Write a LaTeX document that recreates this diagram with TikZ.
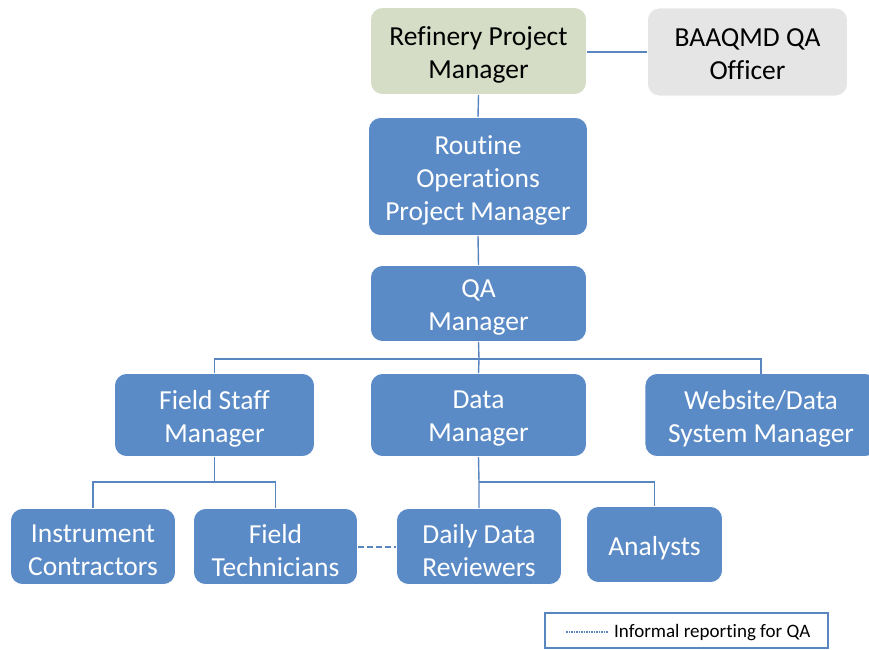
\documentclass[tikz,border=0pt]{standalone}
\usepackage{fontspec}
\setmainfont[Ligatures={NoCommon}]{Carlito}
\definecolor{boxblue}{HTML}{5B8BC6}
\definecolor{linecol}{HTML}{5A86C0}
\definecolor{refgreen}{HTML}{D5DDC6}
\definecolor{offgray}{HTML}{E5E5E5}
\begin{document}
\begin{tikzpicture}[x=1pt,y=-1pt,
  box/.style={rectangle, rounded corners=12pt, fill=boxblue, draw=white, line width=0.8pt, inner sep=0pt},
  boxtxt/.style={text=white, align=center, font=\fontsize{27.5}{33}\selectfont, inner sep=0pt},
  conn/.style={draw=linecol, line width=1.4pt}]
\useasboundingbox (0,0) rectangle (869,649);
\begin{scope}
\clip (0,0) rectangle (869,649);
\node[box, fill=refgreen, minimum width=216pt, minimum height=87pt] (ref) at (478.5,51) {};
\node[box, fill=offgray, minimum width=200pt, minimum height=88pt] (baa) at (747.5,52) {};
\node[box, minimum width=219pt, minimum height=118pt] (rop) at (478,176.5) {};
\node[box, minimum width=216pt, minimum height=76pt] (qam) at (478.5,303.5) {};
\node[box, minimum width=200pt, minimum height=83pt] (fsm) at (214.5,415) {};
\node[box, minimum width=216pt, minimum height=83pt] (dm) at (478.5,415) {};
\node[box, minimum width=232pt, minimum height=83pt] (web) at (761,415) {};
\node[box, minimum width=165pt, minimum height=76pt] (ic) at (93,546.5) {};
\node[box, minimum width=164pt, minimum height=76pt] (ft) at (275.5,546.5) {};
\node[box, minimum width=165pt, minimum height=76pt] (ddr) at (479,546.5) {};
\node[box, minimum width=136pt, minimum height=76pt] (an) at (654.5,544.5) {};
\end{scope}
\node[boxtxt, text=black] (reft) at ([yshift=-4pt]ref.center) {Refinery Project\\Manager};
\node[boxtxt, text=black] (baat) at ([yshift=-2pt]baa.center) {BAAQMD QA\\Officer};
\node[boxtxt] (ropt) at ([yshift=-4pt]rop.center) {Routine\\Operations\\Project Manager};
\node[boxtxt] (qamt) at ([yshift=-4pt]qam.center) {QA\\Manager};
\node[boxtxt] (fsmt) at ([yshift=-4pt]fsm.center) {Field Staff\\Manager};
\node[boxtxt] (dmt) at ([yshift=-4pt]dm.center) {Data\\Manager};
\node[boxtxt] (webt) at ([yshift=-4pt]web.center) {Website/Data\\System Manager};
\node[boxtxt] (ict) at ([yshift=-4pt]ic.center) {Instrument\\Contractors};
\node[boxtxt] (ftt) at ([yshift=-4pt]ft.center) {Field\\Technicians};
\node[boxtxt] (ddrt) at ([yshift=-4pt]ddr.center) {Daily Data\\Reviewers};
\node[boxtxt] (ant) at ([yshift=-4pt]an.center) {Analysts};
\draw[conn] (ref.east |- 0,52) -- (baa.west |- 0,52);
\draw[conn] (ref.south) -- (rop.north);
\draw[conn] (rop.south) -- (qam.north);
\coordinate (bus1) at (479,359);
\draw[conn] (qam.south) -- (bus1);
\draw[conn] (fsm.north) |- (bus1) -| (web.north |- 0,374);
\draw[conn] (bus1) -- (dm.north);
\coordinate (bus2) at (214.5,482);
\draw[conn] (fsm.south) -- (bus2);
\draw[conn] (ic.north) |- (bus2) -| (ft.north);
\coordinate (bus3) at (479,482);
\draw[conn] (dm.south) -- (bus3) -- (ddr.north);
\draw[conn] (bus3) -| (an.north);
\draw[conn, line width=2pt, dash pattern=on 6pt off 3pt] (ft.east) -- (ddr.west);
\node[draw=linecol, line width=1.6pt, minimum width=283pt, minimum height=35pt, inner sep=0pt] (leg) at (686.5,630.5) {};
\coordinate (l1) at (566,632);
\coordinate (l2) at (608,632);
\draw[draw=linecol, line width=1.6pt, dash pattern=on 1.5pt off 1pt] (l1) -- (l2);
\node[anchor=west, font=\fontsize{19}{22}\selectfont, inner sep=0pt] (legtxt) at (614,633) {Informal reporting for QA};
\end{tikzpicture}
\end{document}
